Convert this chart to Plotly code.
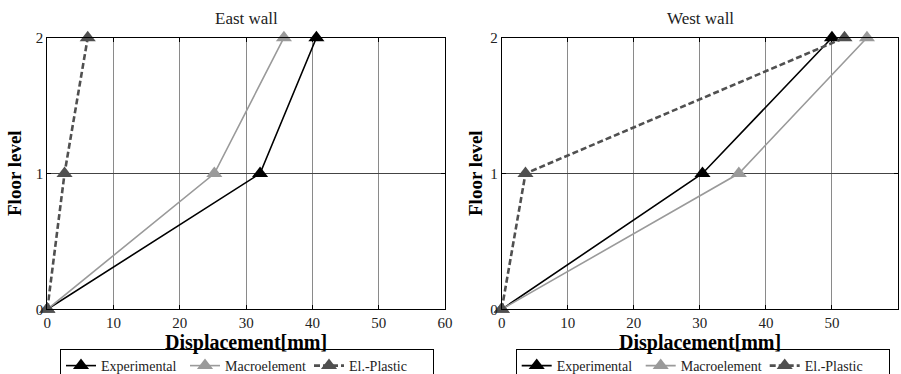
import plotly.graph_objects as go

floors = [0, 1, 2]
east_experimental = [0, 32.1, 40.6]
east_macroelement = [0, 25.2, 35.7]
east_elplastic = [0, 2.6, 6.1]
west_experimental = [0, 30.4, 50.0]
west_macroelement = [0, 35.9, 55.3]
west_elplastic = [0, 3.6, 51.9]
x_ticks = [0, 10, 20, 30, 40, 50, 60]
y_ticks = [0, 1, 2]
series_names = ["Experimental", "Macroelement", "El.-Plastic"]
panel_titles = ["East wall", "West wall"]

FONT = "Liberation Serif"
colors = ["#000000", "#9a9a9a", "#505050"]
widths = [1.6, 1.6, 2.6]
dashes = ["solid", "solid", "6px,3px"]

fig = go.Figure()
panels = [
    ("x", "y", "legend", [east_experimental, east_macroelement, east_elplastic]),
    ("x2", "y2", "legend2", [west_experimental, west_macroelement, west_elplastic]),
]
for xa, ya, lg, series in panels:
    for name, vals, c, w, d in zip(series_names, series, colors, widths, dashes):
        fig.add_trace(go.Scatter(
            x=vals, y=floors, name=name, mode="lines+markers",
            line=dict(color=c, width=w, dash=d),
            marker=dict(symbol="triangle-up", size=14, color=c),
            xaxis=xa, yaxis=ya, legend=lg, cliponaxis=False,
        ))

axis_common = dict(
    showline=True, linecolor="black", linewidth=1, mirror="ticks",
    ticks="inside", ticklen=4, tickcolor="black",
    showgrid=True, zeroline=False, automargin=False,
    tickfont=dict(family=FONT, size=15, color="#222"),
)
ydom = [1 - 309.3 / 374, 1 - 37.7 / 374]
legend_common = dict(orientation="h", xanchor="left", yanchor="top",
                     bordercolor="black", borderwidth=1, bgcolor="white",
                     font=dict(family=FONT, size=14, color="#222"),
                     tracegroupgap=0, itemwidth=30, entrywidth=79)
fig.update_layout(
    width=901, height=374,
    margin=dict(l=0, r=0, t=0, b=0, autoexpand=False),
    paper_bgcolor="white", plot_bgcolor="white",
    font=dict(family=FONT, color="black"),
    xaxis=dict(domain=[47.3 / 901, 445 / 901], range=[0, 60], tickvals=x_ticks,
               gridcolor="#8a8a8a", anchor="y", **axis_common),
    yaxis=dict(domain=ydom, range=[0, 2], tickvals=y_ticks,
               gridcolor="#444444", anchor="x", **axis_common),
    xaxis2=dict(domain=[501.7 / 901, 898 / 901], range=[0, 60], tickvals=x_ticks,
                gridcolor="#8a8a8a", anchor="y2", **axis_common),
    yaxis2=dict(domain=ydom, range=[0, 2], tickvals=y_ticks,
                gridcolor="#444444", anchor="x2", **axis_common),
    legend=dict(x=60 / 901, y=1 - 349 / 374, **legend_common),
    legend2=dict(x=515.7 / 901, y=1 - 349 / 374, **legend_common),
    showlegend=True,
)

annotations = []
for i, (title, cx, ylx) in enumerate([(panel_titles[0], 246, 14), (panel_titles[1], 700, 475)]):
    annotations.append(dict(text=title, x=cx / 901, y=1 - 19 / 374, xref="paper", yref="paper",
                            showarrow=False, font=dict(family=FONT, size=17, color="#222"),
                            xanchor="center", yanchor="middle"))
    annotations.append(dict(text="<b>Displacement[mm]</b>", x=cx / 901, y=1 - 342 / 374,
                            xref="paper", yref="paper", showarrow=False,
                            font=dict(family=FONT, size=20, color="black"),
                            xanchor="center", yanchor="middle"))
    annotations.append(dict(text="<b>Floor level</b>", x=ylx / 901, y=1 - 173 / 374,
                            xref="paper", yref="paper", showarrow=False, textangle=-90,
                            font=dict(family=FONT, size=19, color="black"),
                            xanchor="center", yanchor="middle"))
fig.update_layout(annotations=annotations)

fig.write_html("out.html", config={"displayModeBar": False},
               post_script="document.body.style.margin='0';document.body.style.overflow='hidden';")
